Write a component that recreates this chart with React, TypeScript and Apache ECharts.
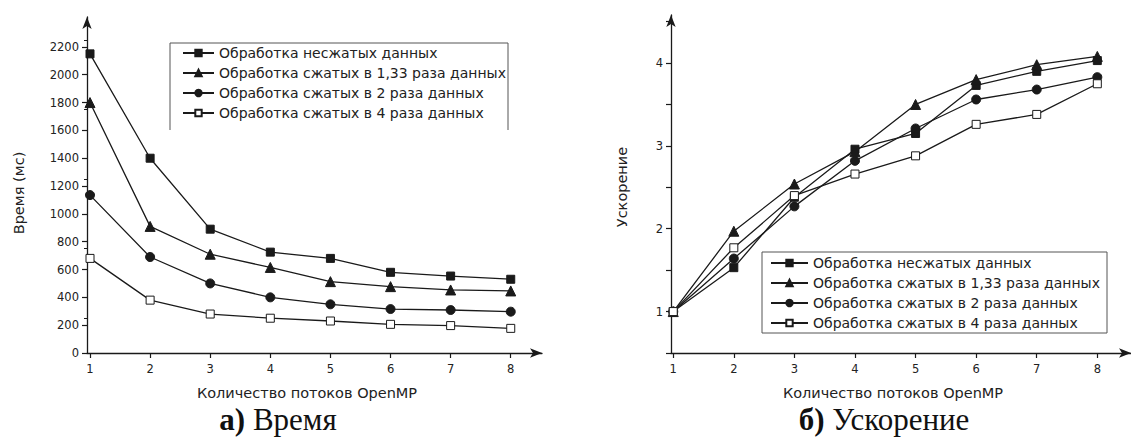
import React, { useEffect, useRef } from "react";
import * as echarts from "echarts";

const threads = [1, 2, 3, 4, 5, 6, 7, 8];
const seriesNames = [
  "Обработка несжатых данных",
  "Обработка сжатых в 1,33 раза данных",
  "Обработка сжатых в 2 раза данных",
  "Обработка сжатых в 4 раза данных",
];
const timeUncompressed = [2150, 1400, 890, 725, 680, 580, 553, 530];
const time133 = [1800, 910, 710, 615, 513, 477, 453, 446];
const time2 = [1135, 690, 500, 400, 350, 316, 309, 297];
const time4 = [680, 380, 280, 250, 230, 206, 197, 177];
const speedUncompressed = [1, 1.53, 2.38, 2.96, 3.15, 3.73, 3.9, 4.03];
const speed133 = [1, 1.97, 2.54, 2.93, 3.5, 3.8, 3.98, 4.08];
const speed2 = [1, 1.64, 2.27, 2.82, 3.21, 3.56, 3.68, 3.83];
const speed4 = [1, 1.77, 2.4, 2.66, 2.88, 3.26, 3.38, 3.75];
const timeTickValues = [0, 200, 400, 600, 800, 1000, 1200, 1400, 1600, 1800, 2000, 2200];
const speedTickValues = [0.5, 1, 1.5, 2, 2.5, 3, 3.5, 4, 4.5];
const speedLabelValues = [1, 2, 3, 4];

const INK = "#1a1a1a";
const SANS = "DejaVu Sans";
const SERIF = "Liberation Serif";

const markers = [
  { symbol: "rect", size: 8, fill: INK },
  { symbol: "triangle", size: 10, fill: INK },
  { symbol: "circle", size: 9, fill: INK },
  { symbol: "rect", size: 8, fill: "#ffffff" },
];

function makeSeries(values: number[][], axisIndex: number) {
  return values.map((vals, i) => ({
    type: "line",
    name: seriesNames[i],
    xAxisIndex: axisIndex,
    yAxisIndex: axisIndex,
    data: threads.map((t, k) => [t, vals[k]]),
    symbol: markers[i].symbol,
    symbolSize: markers[i].size,
    showAllSymbol: true,
    lineStyle: { color: INK, width: 1.3 },
    itemStyle: { color: markers[i].fill, borderColor: INK, borderWidth: 1 },
    emphasis: { disabled: true },
  }));
}

function axisCommon() {
  return {
    axisLine: {
      show: true,
      onZero: false,
      symbol: ["none", "arrow"],
      symbolSize: [7, 12],
      lineStyle: { color: INK, width: 1.3 },
    },
    axisTick: { show: true, inside: false, length: 5, lineStyle: { color: INK, width: 1.2 } },
    splitLine: { show: false },
  };
}

const plain = (v: number) => String(v);

export default function App() {
  const ref = useRef<HTMLDivElement>(null);
  useEffect(() => {
    if (!ref.current) return;
    const chart = echarts.init(ref.current, undefined, { renderer: "svg" });
    const labelStyle = { fontFamily: SANS, fontSize: 11.5, color: "#222", formatter: plain };
    const legendCommon = {
      orient: "vertical",
      selectedMode: false,
      padding: 0,
      itemHeight: 8,
      itemGap: 4,
      textStyle: { fontFamily: SANS, fontSize: 14, color: "#222", lineHeight: 16 },
      data: seriesNames,
    };
    const nameStyle = { fontFamily: SANS, fontSize: 14.5, fill: "#222", align: "center", verticalAlign: "middle" };
    chart.setOption({
      animation: false,
      backgroundColor: "#ffffff",
      grid: [
        { left: 87, top: 17, width: 455, height: 336 },
        { left: 671, top: 15, width: 470, height: 338 },
      ],
      xAxis: [
        {
          type: "value",
          gridIndex: 0,
          min: 0.95,
          max: 8.52,
          ...axisCommon(),
          axisTick: { ...axisCommon().axisTick, customValues: threads },
          axisLabel: { ...labelStyle, margin: 10, customValues: threads },
        },
        {
          type: "value",
          gridIndex: 1,
          min: 0.963,
          max: 8.556,
          ...axisCommon(),
          axisTick: { ...axisCommon().axisTick, customValues: threads },
          axisLabel: { ...labelStyle, margin: 10, customValues: threads },
        },
      ],
      yAxis: [
        {
          type: "value",
          gridIndex: 0,
          min: 0,
          max: 2415,
          ...axisCommon(),
          axisTick: { ...axisCommon().axisTick, customValues: timeTickValues },
          minorTick: { show: true, splitNumber: 2, length: 3, lineStyle: { color: INK, width: 1 } },
          axisLabel: { ...labelStyle, margin: 8, customValues: timeTickValues },
        },
        {
          type: "value",
          gridIndex: 1,
          min: 0.5,
          max: 4.58,
          ...axisCommon(),
          axisTick: { ...axisCommon().axisTick, customValues: speedTickValues },
          axisLabel: { ...labelStyle, margin: 8, customValues: speedLabelValues },
        },
      ],
      legend: [
        { ...legendCommon, left: 182, top: 45, itemWidth: 31 },
        { ...legendCommon, left: 770, top: 255, itemWidth: 37 },
      ],
      series: [
        ...makeSeries([timeUncompressed, time133, time2, time4], 0),
        ...makeSeries([speedUncompressed, speed133, speed2, speed4], 1),
      ],
      graphic: [
        {
          type: "polyline",
          shape: { points: [[170, 130], [170, 43], [508, 43], [508, 130]] },
          style: { stroke: "#555", lineWidth: 1, fill: null },
          silent: true,
        },
        {
          type: "rect",
          shape: { x: 762, y: 252, width: 345, height: 81 },
          style: { stroke: "#555", lineWidth: 1, fill: "#fff" },
          z: -1,
          silent: true,
        },
        { type: "text", x: 307, y: 393, style: { ...nameStyle, text: "Количество потоков OpenMP" } },
        { type: "text", x: 893, y: 393, style: { ...nameStyle, text: "Количество потоков OpenMP" } },
        { type: "text", x: 19, y: 193, rotation: Math.PI / 2, style: { ...nameStyle, text: "Время (мс)" } },
        { type: "text", x: 622, y: 187, rotation: Math.PI / 2, style: { ...nameStyle, text: "Ускорение" } },
        {
          type: "text",
          x: 278,
          y: 419,
          style: {
            text: "{b|а)} Время",
            fontFamily: SERIF,
            fontSize: 31,
            fill: "#111",
            align: "center",
            verticalAlign: "middle",
            rich: { b: { fontFamily: SERIF, fontSize: 31, fontWeight: "bold", fill: "#111" } },
          },
        },
        {
          type: "text",
          x: 884,
          y: 419,
          style: {
            text: "{b|б)} Ускорение",
            fontFamily: SERIF,
            fontSize: 31,
            fill: "#111",
            align: "center",
            verticalAlign: "middle",
            rich: { b: { fontFamily: SERIF, fontSize: 31, fontWeight: "bold", fill: "#111" } },
          },
        },
      ],
    });
    return () => chart.dispose();
  }, []);
  return (
    <div
      ref={ref}
      style={{ position: "absolute", left: 0, top: 0, width: 1131, height: 444, background: "#fff" }}
    />
  );
}
